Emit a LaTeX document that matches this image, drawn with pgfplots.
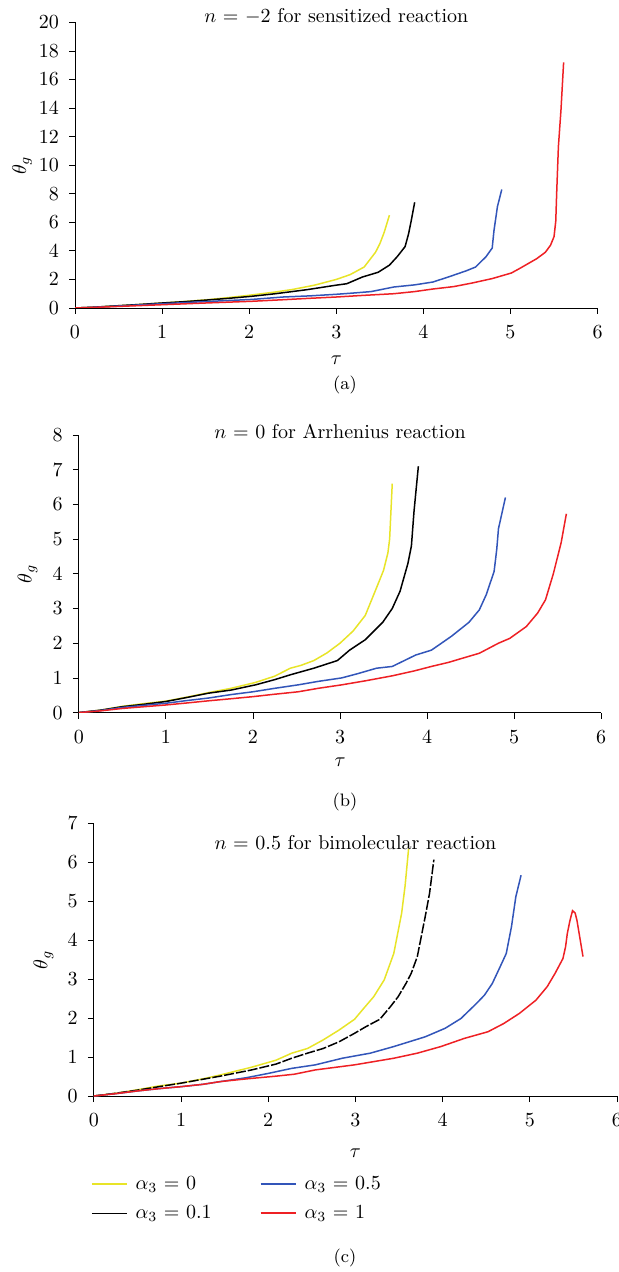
\documentclass[border=0pt]{standalone}
\usepackage{pgfplots}
\pgfplotsset{compat=1.18}
\definecolor{yc}{RGB}{232,228,40}
\definecolor{bc}{RGB}{50,85,185}
\definecolor{rc}{RGB}{238,32,36}
\tikzset{ln/.style={line width=0.75pt}}
\pgfplotsset{
  myax/.style={
    scale only axis,
    axis lines*=left,
    axis line style={-},
    tick align=outside,
    major tick length=3pt,
    tick style={black, thin},
    xmin=0, xmax=6,
    ymin=0,
    xtick={0,1,2,3,4,5,6},
    xticklabel style={yshift=-2.5pt},
    yticklabel style={xshift=-1.5pt},
    xlabel={$\tau$},
    ylabel={$\theta_g$},
    every axis title shift=0pt,
    title style={font=\normalsize, anchor=center},
  }
}
\begin{document}
\begin{tikzpicture}
\path[use as bounding box] (0pt,0pt) rectangle (309pt,-636pt);

% (a)
\begin{axis}[myax,
  at={(37.5pt,-154pt)}, anchor=south west,
  width=261.3pt, height=142.8pt,
  ymax=20, ytick={0,2,...,20},
  title={$n$ = $-$2 for sensitized reaction},
  title style={at={(axis description cs:0.5,1)}, yshift=3.2pt},
  xlabel style={at={(axis description cs:0.5,0)}, anchor=center, yshift=-26pt},
  ylabel style={at={(axis description cs:-0.1014,0.5)}, anchor=center},
]
\addplot[yc, ln] coordinates {(0,0)(0.2,0.05)(0.5,0.16)(0.75,0.25)(1,0.35)(1.25,0.45)(1.5,0.57)(1.75,0.72)(2,0.89)(2.3,1.12)(2.5,1.3)(2.75,1.6)(3,2.0)(3.16,2.34)(3.32,2.87)(3.45,3.9)(3.5,4.5)(3.55,5.3)(3.61,6.5)};
\addplot[black, ln] coordinates {(0,0)(0.2,0.05)(0.5,0.16)(0.75,0.25)(1,0.35)(1.25,0.44)(1.5,0.55)(1.75,0.67)(2.03,0.82)(2.3,1.0)(2.66,1.28)(3,1.6)(3.12,1.7)(3.3,2.17)(3.48,2.5)(3.61,3.0)(3.7,3.6)(3.79,4.3)(3.83,5.2)(3.86,6.1)(3.9,7.4)};
\addplot[bc, ln] coordinates {(0,0)(0.25,0.06)(0.5,0.14)(0.75,0.22)(1,0.3)(1.5,0.45)(2.03,0.6)(2.39,0.77)(2.7,0.85)(3,0.96)(3.2,1.05)(3.4,1.15)(3.66,1.47)(3.9,1.62)(4.11,1.82)(4.3,2.2)(4.49,2.6)(4.6,2.87)(4.72,3.6)(4.79,4.2)(4.81,5.4)(4.85,7.1)(4.9,8.3)};
\addplot[rc, ln] coordinates {(0,0)(0.25,0.05)(0.5,0.11)(0.75,0.17)(1,0.23)(1.5,0.35)(2.03,0.47)(2.39,0.58)(2.7,0.68)(3,0.77)(3.3,0.88)(3.66,1.0)(3.9,1.15)(4.11,1.33)(4.35,1.5)(4.56,1.75)(4.79,2.06)(5.01,2.45)(5.1,2.75)(5.2,3.1)(5.3,3.45)(5.4,3.9)(5.46,4.4)(5.5,5.0)(5.52,6.1)(5.53,8.0)(5.55,11.3)(5.58,13.9)(5.61,17.2)};
\end{axis}
\node[font=\small] at (172.5pt,-192.5pt) {(a)};

% (b)
\begin{axis}[myax,
  at={(39.4pt,-356.3pt)}, anchor=south west,
  width=261.2pt, height=138.8pt,
  ymax=8, ytick={0,1,...,8},
  title={$n$ = 0 for Arrhenius reaction},
  title style={at={(axis description cs:0.5,1)}, yshift=1.7pt},
  xlabel style={at={(axis description cs:0.5,0)}, anchor=center, yshift=-25pt},
  ylabel style={at={(axis description cs:-0.098,0.5)}, anchor=center},
]
\addplot[yc, ln] coordinates {(0,0)(0.25,0.07)(0.5,0.18)(0.75,0.26)(1,0.33)(1.25,0.45)(1.5,0.58)(1.75,0.7)(2.03,0.87)(2.25,1.05)(2.43,1.28)(2.55,1.36)(2.7,1.5)(2.85,1.72)(3,2.0)(3.15,2.35)(3.29,2.8)(3.42,3.6)(3.5,4.1)(3.55,4.6)(3.57,5.0)(3.6,6.6)};
\addplot[black, ln] coordinates {(0,0)(0.25,0.07)(0.5,0.17)(0.75,0.24)(1,0.32)(1.25,0.44)(1.49,0.56)(1.75,0.65)(2.03,0.8)(2.25,0.95)(2.43,1.09)(2.7,1.28)(2.97,1.5)(3.11,1.8)(3.29,2.1)(3.49,2.6)(3.6,3.0)(3.69,3.5)(3.78,4.3)(3.82,4.8)(3.85,5.8)(3.9,7.1)};
\addplot[bc, ln] coordinates {(0,0)(0.25,0.06)(0.5,0.15)(0.75,0.21)(1,0.27)(1.25,0.35)(1.49,0.42)(1.75,0.52)(2,0.6)(2.25,0.7)(2.52,0.8)(2.75,0.9)(3.02,1.0)(3.2,1.12)(3.42,1.28)(3.6,1.33)(3.87,1.66)(4.05,1.8)(4.28,2.2)(4.48,2.6)(4.6,2.96)(4.68,3.4)(4.77,4.07)(4.8,4.7)(4.82,5.3)(4.9,6.2)};
\addplot[rc, ln] coordinates {(0,0)(0.25,0.05)(0.5,0.12)(0.75,0.17)(1,0.22)(1.25,0.28)(1.49,0.34)(1.75,0.4)(2,0.46)(2.25,0.53)(2.52,0.6)(2.75,0.7)(3.02,0.8)(3.3,0.92)(3.6,1.06)(3.85,1.2)(4.05,1.33)(4.25,1.45)(4.41,1.57)(4.6,1.71)(4.82,2.0)(4.95,2.14)(5.14,2.48)(5.27,2.87)(5.36,3.25)(5.45,4.0)(5.54,4.9)(5.6,5.73)};
\end{axis}
\node[font=\small] at (172.5pt,-401pt) {(b)};

% (c)
\begin{axis}[myax,
  at={(46.9pt,-548pt)}, anchor=south west,
  width=261.6pt, height=136.3pt,
  ymax=7, ytick={0,1,...,7},
  title={$n$ = 0.5 for bimolecular reaction},
  title style={at={(axis description cs:0.5,1)}, yshift=-9.65pt},
  xlabel style={at={(axis description cs:0.5,0)}, anchor=center, yshift=-28.5pt},
  ylabel style={at={(axis description cs:-0.0963,0.5)}, anchor=center},
  legend columns=2,
  legend cell align=left,
  legend style={at={(axis description cs:-0.006,-0.277)}, anchor=north west,
    draw=none, fill=none, inner sep=0pt, font=\normalsize,
    /tikz/every even column/.append style={column sep=22pt},
    /tikz/every odd column/.append style={column sep=2pt},
    row sep=2.5pt},
]
\addplot[yc, ln, forget plot] coordinates {(0,0)(0.25,0.07)(0.5,0.16)(0.75,0.26)(1,0.33)(1.25,0.44)(1.45,0.54)(1.81,0.74)(2.09,0.92)(2.27,1.1)(2.45,1.22)(2.63,1.44)(2.81,1.69)(2.99,1.97)(3.08,2.21)(3.21,2.55)(3.33,2.98)(3.44,3.66)(3.53,4.69)(3.57,5.4)(3.61,6.35)};
\addplot[black, ln, dash pattern=on 5pt off 1pt, forget plot] coordinates {(0,0)(0.25,0.07)(0.5,0.15)(0.75,0.24)(1,0.33)(1.25,0.43)(1.45,0.51)(1.81,0.67)(2.09,0.82)(2.27,0.97)(2.45,1.1)(2.63,1.22)(2.81,1.39)(2.99,1.61)(3.12,1.78)(3.28,1.97)(3.4,2.29)(3.49,2.55)(3.58,2.89)(3.64,3.15)(3.71,3.58)(3.8,4.6)(3.85,5.2)(3.9,6.07)};
\addplot[bc, ln, forget plot] coordinates {(0,0)(0.25,0.06)(0.5,0.13)(0.75,0.19)(1,0.24)(1.25,0.3)(1.45,0.37)(1.75,0.47)(2,0.58)(2.27,0.71)(2.54,0.8)(2.85,0.97)(3.17,1.1)(3.44,1.27)(3.8,1.52)(4.03,1.74)(4.21,1.99)(4.39,2.38)(4.48,2.59)(4.57,2.89)(4.66,3.32)(4.73,3.66)(4.79,4.35)(4.84,5.12)(4.9,5.67)};
\addplot[rc, ln, forget plot] coordinates {(0,0)(0.25,0.06)(0.5,0.13)(0.75,0.19)(1,0.24)(1.25,0.3)(1.45,0.37)(1.75,0.44)(2.09,0.51)(2.3,0.56)(2.54,0.67)(2.99,0.8)(3.44,0.97)(3.71,1.1)(3.98,1.27)(4.25,1.48)(4.52,1.65)(4.7,1.86)(4.88,2.12)(5.07,2.46)(5.2,2.81)(5.29,3.15)(5.38,3.53)(5.41,3.83)(5.43,4.17)(5.46,4.5)(5.49,4.76)(5.52,4.7)(5.54,4.52)(5.61,3.58)};
\addlegendimage{legend image code/.code={\draw[yc, line width=0.75pt] (0pt,0pt) -- (17.5pt,0pt);}}
\addlegendentry{$\alpha_3$ = 0}
\addlegendimage{legend image code/.code={\draw[bc, line width=0.75pt] (0pt,0pt) -- (17.5pt,0pt);}}
\addlegendentry{$\alpha_3$ = 0.5}
\addlegendimage{legend image code/.code={\draw[black, line width=0.75pt] (0pt,0pt) -- (17.5pt,0pt);}}
\addlegendentry{$\alpha_3$ = 0.1}
\addlegendimage{legend image code/.code={\draw[rc, line width=0.9pt] (0pt,0.1pt) -- (17.5pt,0.1pt);}}
\addlegendentry{$\alpha_3$ = 1}
\end{axis}
\node[font=\small] at (172.5pt,-629pt) {(c)};
\end{tikzpicture}
\end{document}
